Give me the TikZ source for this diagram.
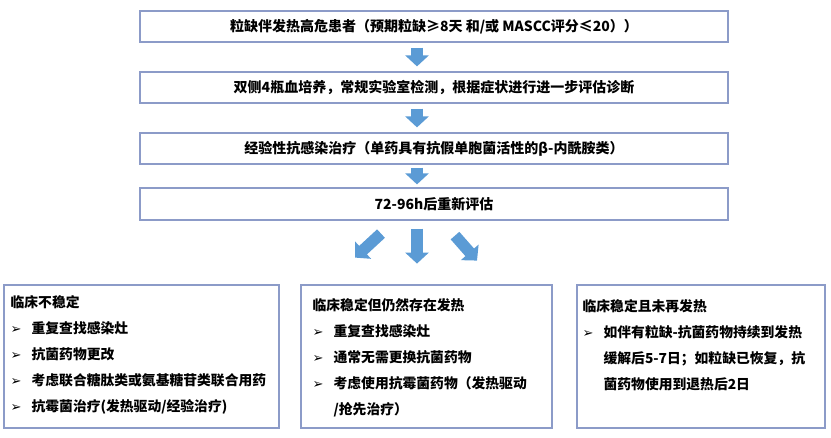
\documentclass[tikz,border=0pt]{standalone}
\usepackage{fontspec}
\setmainfont{Noto Sans CJK SC}
\newfontfamily\symf{DejaVu Sans}
\usetikzlibrary{arrows.meta}
\definecolor{boxline}{RGB}{140,155,200}
\definecolor{arrowblue}{RGB}{91,155,213}
\newcommand{\itm}{\makebox[21pt][l]{\symf\fontsize{13pt}{13pt}\selectfont ➢}}
\newcommand{\indt}{\hspace*{21pt}}

\begin{document}
\begin{tikzpicture}[x=1pt,y=1pt,node distance=61pt,
  box/.style={draw=boxline,line width=1.2pt,fill=white,minimum width=588pt,minimum height=31pt,inner sep=0pt,font=\fontsize{14pt}{17pt}\selectfont\bfseries},
  panel/.style={draw=boxline,line width=1.2pt,fill=white,minimum height=143pt,inner sep=0pt},
  txt/.style={anchor=north west,align=left,inner sep=0pt,font=\fontsize{13.8pt}{26pt}\selectfont\bfseries},
  fat/.style={draw=arrowblue,line width=11.5pt,-{Triangle[length=11pt,width=23pt]}}]

\useasboundingbox (0,0) rectangle (831,-438);

\node[box] (A) at (434,-26.5) {粒缺伴发热高危患者（预期粒缺≥8天 和/或 MASCC评分≤20））};
\node[box] (B) [below of=A] {双侧4瓶血培养，常规实验室检测，根据症状进行进一步评估诊断};
\node[box] (C) [below of=B] {经验性抗感染治疗（单药具有抗假单胞菌活性的β-内酰胺类）};
\node[box,minimum height=32pt] (D) [node distance=55.5pt,below of=C] {72-96h后重新评估};

\node[panel,minimum width=275pt] (L) at (141.5,-356.5) {};
\node[panel,minimum width=251pt] (M) [node distance=285pt,right of=L] {};
\node[panel,minimum width=248pt] (R) [node distance=274.5pt,right of=M] {};

\node[txt] (Lt) at ([xshift=7pt,yshift=-11pt]L.north west) {临床不稳定\\ \itm 重复查找感染灶\\ \itm 抗菌药物更改\\ \itm 考虑联合糖肽类或氨基糖苷类联合用药\\ \itm 抗霉菌治疗(发热驱动/经验治疗)};
\node[txt] (Mt) at ([xshift=12pt,yshift=-14pt]M.north west) {临床稳定但仍然存在发热\\ \itm 重复查找感染灶\\ \itm 通常无需更换抗菌药物\\ \itm 考虑使用抗霉菌药物（发热驱动\\ \indt /抢先治疗）};
\node[txt] (Rt) at ([xshift=6pt,yshift=-15pt]R.north west) {临床稳定且未再发热\\ \itm 如伴有粒缺-抗菌药物持续到发热\\ \indt 缓解后5-7日；如粒缺已恢复，抗\\ \indt 菌药物使用到退热后2日};

\path
([xshift=-17pt]A.south) edge[fat,shorten <=5pt,shorten >=5pt] ([xshift=-17pt]B.north)
([xshift=-17pt]B.south) edge[fat,shorten <=5pt,shorten >=5pt] ([xshift=-17pt]C.north)
([xshift=-17pt]C.south) edge[fat,shorten <=3pt,shorten >=3pt] ([xshift=-17pt]D.north)
([xshift=-17pt,yshift=-8pt]D.south) edge[fat] ([xshift=-17pt,yshift=-43pt]D.south)
([xshift=-53pt,yshift=-13pt]D.south) edge[fat] ([xshift=-79pt,yshift=-37pt]D.south)
([xshift=21pt,yshift=-15pt]D.south) edge[fat] ([xshift=43pt,yshift=-40pt]D.south)
;
\end{tikzpicture}
\end{document}
